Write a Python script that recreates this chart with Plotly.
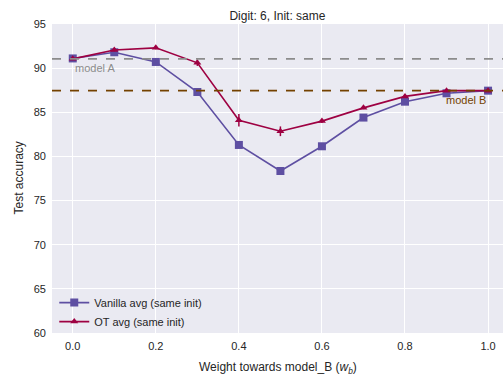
import plotly.graph_objects as go

weights = [0.0, 0.1, 0.2, 0.3, 0.4, 0.5, 0.6, 0.7, 0.8, 0.9, 1.0]
vanilla_avg = [91.1, 91.8, 90.7, 87.3, 81.3, 78.35, 81.15, 84.4, 86.2, 87.15, 87.45]
ot_avg = [91.05, 92.05, 92.3, 90.6, 84.1, 82.85, 84.0, 85.5, 86.8, 87.45, 87.45]
ot_err = [0.1, 0.15, 0.15, 0.35, 0.7, 0.55, 0.2, 0.15, 0.15, 0.1, 0.1]
model_a_acc = 91.05
model_b_acc = 87.45
x_ticks = [0.0, 0.2, 0.4, 0.6, 0.8, 1.0]
y_ticks = [60, 65, 70, 75, 80, 85, 90, 95]

VAN_C = "#5e4fa2"
OT_C = "#9e0142"
A_C = "#8c8c8c"
B_C = "#744200"

fig = go.Figure()
fig.add_hline(y=model_a_acc, line=dict(color=A_C, width=1.6, dash="dash"))
fig.add_hline(y=model_b_acc, line=dict(color=B_C, width=1.6, dash="dash"))

fig.add_trace(go.Scatter(
    x=weights, y=vanilla_avg, mode="lines+markers", name="Vanilla avg (same init)",
    line=dict(color=VAN_C, width=1.6),
    marker=dict(symbol="square", size=8, color=VAN_C),
))
fig.add_trace(go.Scatter(
    x=weights, y=ot_avg, mode="lines+markers", name="OT avg (same init)",
    line=dict(color=OT_C, width=1.6),
    marker=dict(symbol="triangle-up", size=7, color=OT_C),
    error_y=dict(type="data", array=ot_err, color=OT_C, thickness=1.5, width=0),
))

fig.add_annotation(x=0.0, y=model_a_acc, text="model A", showarrow=False,
                   xanchor="left", yanchor="top", yshift=-1,
                   font=dict(color=A_C, size=11))
fig.add_annotation(x=1.0, y=model_b_acc, text="model B", showarrow=False,
                   xanchor="right", yanchor="top", yshift=-1,
                   font=dict(color=B_C, size=11))

# axis titles
fig.add_annotation(xref="paper", yref="paper", x=0.5, y=0, yshift=-35,
                   text="Weight towards model_B (<i>w</i><sub><i>b</i></sub>)",
                   showarrow=False, xanchor="center", yanchor="middle",
                   font=dict(size=12))
fig.add_annotation(xref="paper", yref="paper", x=0, xshift=-34, y=0.5,
                   text="Test accuracy", textangle=-90,
                   showarrow=False, xanchor="center", yanchor="middle",
                   font=dict(size=12))

fig.update_layout(
    width=503, height=377,
    margin=dict(l=52, r=0, t=24, b=44),
    paper_bgcolor="white", plot_bgcolor="#eaeaf2",
    font=dict(family="Liberation Sans, Arial, sans-serif", size=11, color="#262626"),
    title=dict(text="Digit: 6, Init: same", x=0.5515, xanchor="center",
               y=0.957, yanchor="middle", font=dict(size=12)),
    showlegend=True,
    legend=dict(x=0.005, y=-0.01, xanchor="left", yanchor="bottom",
                bgcolor="rgba(0,0,0,0)", font=dict(size=11),
                tracegroupgap=0, itemwidth=30),
    xaxis=dict(range=[-0.05, 1.036], tickvals=x_ticks,
               ticktext=[f"{t:.1f}" for t in x_ticks],
               showgrid=True, gridcolor="white", gridwidth=1.2, zeroline=False,
               showline=False, ticks="", automargin=False, ticklabelstandoff=5),
    yaxis=dict(range=[60, 95], tickvals=y_ticks,
               showgrid=True, gridcolor="white", gridwidth=1.2, zeroline=False,
               showline=False, ticks="", automargin=False, ticklabelstandoff=5),
)

fig.write_html("out.html", config={"displayModeBar": False},
               post_script="document.body.style.margin='0px';")
